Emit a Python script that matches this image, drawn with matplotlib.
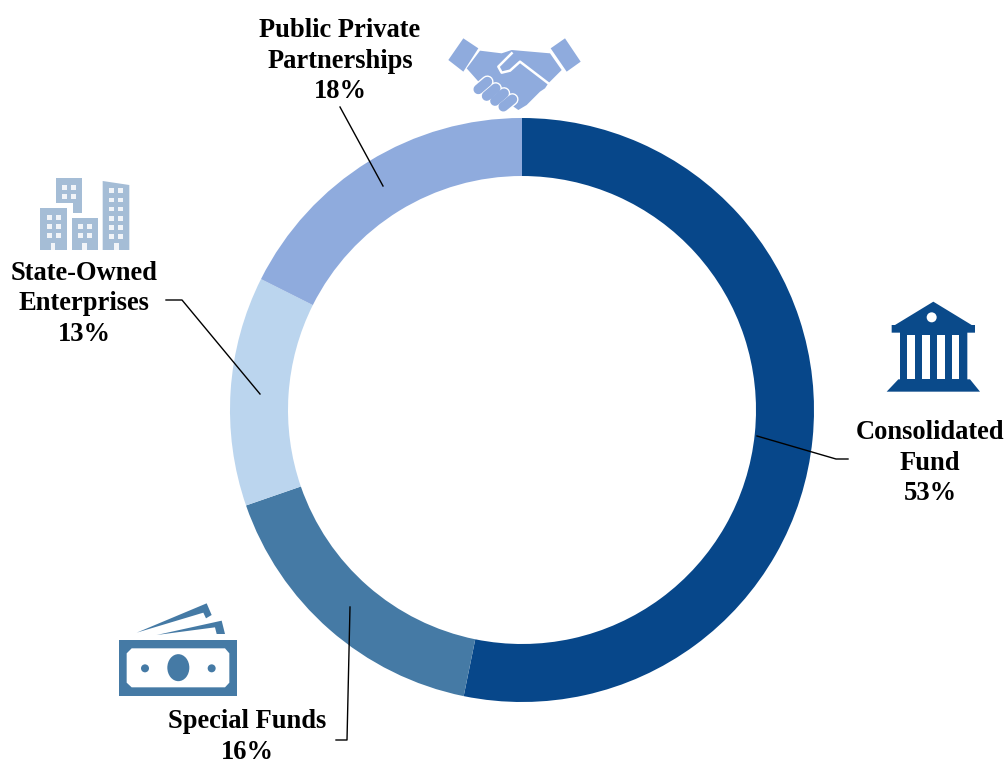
import matplotlib
matplotlib.use("Agg")
import matplotlib.pyplot as plt
from matplotlib.patches import Polygon, Circle, Ellipse

categories = ["Consolidated\nFund", "Special Funds", "State-Owned\nEnterprises", "Public Private\nPartnerships"]
shares = [53.2, 16.5, 12.7, 17.6]
share_labels = ["53%", "16%", "13%", "18%"]
colors = ["#07478A", "#457AA5", "#BBD5EE", "#8FABDD"]

plt.rcParams["font.family"] = ["Liberation Serif", "DejaVu Serif"]

fig = plt.figure(figsize=(10.06, 7.66), dpi=100)
ax = fig.add_axes([0, 0, 1, 1], frameon=False)

# Donut
ax.pie(shares, colors=colors, startangle=-90, counterclock=True, center=(522, 410), radius=292,
       wedgeprops=dict(width=58, linewidth=0), frame=True)
ax.set_xlim(0, 1006)
ax.set_ylim(766, 0)
ax.set_aspect("equal")
ax.axis("off")

# Labels
font = dict(fontsize=19.1, fontweight="bold", color="black", ha="center", va="center", linespacing=1.3)
ax.text(930, 463, categories[0] + "\n" + share_labels[0], **font)
ax.text(247, 737, categories[1] + "\n" + share_labels[1], **font)
ax.text(84, 304, categories[2] + "\n" + share_labels[2], **font)
ax.text(340, 61, categories[3] + "\n" + share_labels[3], **font)

# Leader lines
for xs, ys in [([848, 836, 757], [459, 459, 436]),
               ([336, 347, 350], [740, 740, 607]),
               ([166, 182, 260], [300, 300, 394]),
               ([340, 383], [107, 186])]:
    ax.plot(xs, ys, color="black", lw=1.0, zorder=5)


def crop(ox, oy):
    return lambda pts: [(ox + x / 3, oy + y / 3) for x, y in pts]


# Bank
p = crop(870, 300)
bank = "#0A4A8A"
ax.add_patch(Polygon(p([(190, 5), (305, 75), (315, 75), (315, 98), (292, 98), (292, 238), (300, 238), (330, 275),
                        (50, 275), (85, 238), (90, 238), (90, 98), (65, 98), (65, 75), (75, 75)]), color=bank, lw=0))
ax.add_patch(Circle(p([(185, 52)])[0], 5, color="white", lw=0))
for gap in [112, 157, 201, 245]:
    ax.add_patch(Polygon(p([(gap, 105), (gap + 23, 105), (gap + 23, 238), (gap, 238)]), color="white", lw=0))

# Money
p = crop(100, 590)
money = "#457AA5"
ax.add_patch(Polygon(p([(58, 150), (410, 150), (410, 318), (58, 318)]), color=money, lw=0))
ax.add_patch(Polygon(p([(95, 175), (375, 175), (388, 190), (388, 278), (375, 292), (95, 292), (80, 278), (80, 190)]),
                     color="white", lw=0))
ax.add_patch(Ellipse(p([(235, 233)])[0], 22, 27, color=money, lw=0))
ax.add_patch(Circle(p([(135, 235)])[0], 4, color=money, lw=0))
ax.add_patch(Circle(p([(335, 235)])[0], 4, color=money, lw=0))
ax.add_patch(Polygon(p([(110, 128), (320, 40), (335, 75), (318, 85), (310, 68)]), color=money, lw=0))
ax.add_patch(Polygon(p([(170, 135), (365, 92), (375, 132), (350, 132), (345, 112)]), color=money, lw=0))

# Buildings
p = crop(20, 170)
city = "#A5BDD6"
ax.add_patch(Polygon(p([(108, 25), (187, 25), (187, 128), (158, 128), (158, 100), (108, 100)]), color=city, lw=0))
ax.add_patch(Polygon(p([(60, 115), (140, 115), (140, 240), (60, 240)]), color=city, lw=0))
ax.add_patch(Polygon(p([(155, 143), (235, 143), (235, 240), (155, 240)]), color=city, lw=0))
ax.add_patch(Polygon(p([(248, 33), (328, 45), (328, 240), (248, 240)]), color=city, lw=0))
windows = [(125, 45), (152, 45), (125, 73), (152, 73),
           (80, 135), (107, 135), (80, 163), (107, 163), (80, 190), (107, 190),
           (175, 163), (202, 163), (175, 190), (202, 190),
           (266, 55), (293, 55), (266, 83), (293, 83), (266, 110), (293, 110),
           (266, 138), (293, 138), (266, 165), (293, 165), (266, 193), (293, 193)]
for x, y in windows:
    ax.add_patch(Polygon(p([(x, y), (x + 15, y), (x + 15, y + 14), (x, y + 14)]), color="white", alpha=0.85, lw=0))
for x in [92, 187, 282]:
    ax.add_patch(Polygon(p([(x, 218), (x + 14, 218), (x + 14, 240), (x, 240)]), color="white", alpha=0.85, lw=0))

# Handshake
p = crop(430, 20)
hand = "#8FABDD"
ax.add_patch(Polygon(p([(100, 55), (145, 85), (100, 155), (55, 120)]), color=hand, lw=0))
ax.add_patch(Polygon(p([(405, 55), (452, 125), (410, 155), (362, 85)]), color=hand, lw=0))
ax.add_patch(Polygon(p([(110, 145), (150, 92), (215, 100), (245, 90), (360, 100), (395, 150), (355, 190), (345, 205),
                        (330, 215), (310, 235), (290, 255), (265, 270), (150, 190)]), color=hand, lw=0))
for a, b in [((145, 208), (172, 185)), ((170, 228), (197, 205)), ((195, 243), (222, 220)), ((220, 260), (247, 238))]:
    xs, ys = zip(*p([a, b]))
    ax.plot(xs, ys, color="white", lw=9, solid_capstyle="round", zorder=3)
    ax.plot(xs, ys, color=hand, lw=7, solid_capstyle="round", zorder=4)
xs, ys = zip(*p([(245, 100), (205, 140), (215, 158), (240, 152), (270, 125), (355, 190)]))
ax.plot(xs, ys, color="white", lw=1.8, zorder=4)

fig.savefig("out.png", dpi=100)
